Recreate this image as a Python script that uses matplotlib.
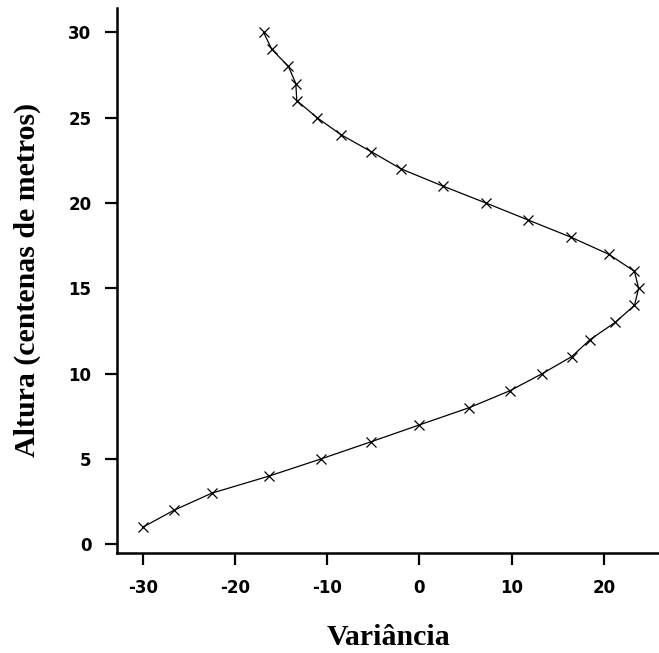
import numpy as np
from matplotlib import pyplot as plt

plt.rcParams["axes.unicode_minus"] = False

# altura em centenas de metros, variancia
altura = list(range(1, 31))
variancia = [-30.0, -26.6, -22.5, -16.3, -10.7, -5.3, 0.0, 5.35, 9.8, 13.3,
             16.5, 18.5, 21.2, 23.3, 23.75, 23.3, 20.5, 16.4, 11.8, 7.2,
             2.5, -2.0, -5.2, -8.5, -11.1, -13.3, -13.4, -14.2, -16.0, -16.9]

xticks = [-30, -20, -10, 0, 10, 20]
yticks = [0, 5, 10, 15, 20, 25, 30]

fig = plt.figure(figsize=(6.59, 6.53), dpi=100)
ax = fig.add_axes([0.178, 0.1536, 0.822, 0.834])

ax.plot(variancia, altura, color="black", lw=0.9, marker="x",
        markersize=7, mew=0.9)

ax.set_xlim(-32.75, 25.96)
ax.set_ylim(-0.49, 31.42)
ax.set_xticks(xticks)
ax.set_yticks(yticks)

for s in ["top", "right"]:
    ax.spines[s].set_visible(False)
for s in ["left", "bottom"]:
    ax.spines[s].set_linewidth(1.8)

ax.tick_params(length=8.6, width=1.6, direction="out")
ax.tick_params(axis="x", pad=10)
ax.tick_params(axis="y", pad=10)
for lab in ax.get_xticklabels() + ax.get_yticklabels():
    lab.set_fontfamily("DejaVu Sans")
    lab.set_fontweight("bold")
    lab.set_fontsize(12)

ax.set_xlabel("Variância", family="Liberation Serif", fontweight="bold",
              fontsize=21.5, labelpad=20)
ax.set_ylabel("Altura (centenas de metros)", family="Liberation Serif",
              fontweight="bold", fontsize=21.5, labelpad=20)

fig.savefig("out.png", dpi=100)
